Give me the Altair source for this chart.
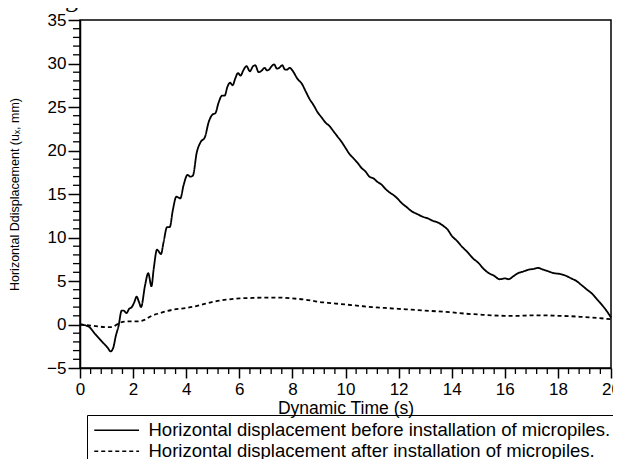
import altair as alt
import pandas as pd

# Solid series: before installation of micropiles
t_before = [0.0, 0.3, 0.6, 0.9, 1.05, 1.15, 1.25, 1.35, 1.45, 1.57, 1.65, 1.75, 1.85, 1.95,
            2.05, 2.13, 2.22, 2.3, 2.45, 2.57, 2.69, 2.78, 2.9, 3.05, 3.15, 3.28, 3.38, 3.5,
            3.63, 3.78, 3.9, 4.05, 4.15, 4.25, 4.4, 4.55, 4.7, 4.85, 4.98, 5.1, 5.22, 5.35,
            5.45, 5.55, 5.65, 5.75, 5.85, 5.95, 6.05, 6.15, 6.27, 6.4, 6.52, 6.6, 6.73, 6.85,
            6.95, 7.05, 7.12, 7.22, 7.31, 7.42, 7.5, 7.62, 7.72, 7.8, 7.9, 8.0, 8.2, 8.35,
            8.5, 8.65, 8.8, 8.95, 9.1, 9.25, 9.4, 9.55, 9.7, 9.85, 10.0, 10.15, 10.3, 10.45,
            10.6, 10.75, 10.9, 11.05, 11.2, 11.35, 11.5, 11.65, 11.8, 11.95, 12.1, 12.3, 12.5,
            12.7, 12.9, 13.1, 13.3, 13.5, 13.7, 13.85, 14.0, 14.2, 14.4, 14.6, 14.8, 15.0,
            15.2, 15.4, 15.6, 15.8, 16.0, 16.15, 16.3, 16.5, 16.7, 16.9, 17.1, 17.25, 17.45,
            17.65, 17.85, 18.1, 18.3, 18.5, 18.7, 18.9, 19.1, 19.3, 19.5, 19.7, 19.85, 20.0]
u_before = [0.0, -0.2, -1.2, -2.2, -2.7, -3.1, -2.7, -1.3, -0.2, 1.6, 1.6, 1.3, 1.8, 2.0,
            2.6, 3.2, 2.6, 2.0, 4.5, 5.9, 4.4, 6.5, 8.6, 8.1, 9.5, 11.2, 11.2, 13.2,
            14.7, 14.5, 16.0, 17.2, 17.0, 17.1, 19.8, 21.0, 21.5, 23.3, 24.1, 24.3, 25.5, 26.3,
            26.3, 27.3, 27.8, 27.5, 28.3, 28.9, 28.6, 29.2, 29.7, 29.1, 29.7, 29.8, 29.0, 29.2,
            29.5, 29.2, 29.3, 29.7, 29.9, 29.4, 29.5, 29.8, 29.3, 29.3, 29.5, 29.2, 28.2, 27.7,
            26.8, 25.9, 25.2, 24.4, 23.8, 23.2, 22.8, 22.2, 21.6, 21.0, 20.3, 19.6, 19.1, 18.6,
            18.0, 17.6, 17.0, 16.8, 16.4, 16.1, 15.6, 15.2, 14.9, 14.5, 14.0, 13.5, 13.0,
            12.7, 12.4, 12.2, 11.9, 11.7, 11.3, 10.9, 10.2, 9.6, 8.9, 8.3, 7.6, 7.1,
            6.4, 5.9, 5.6, 5.2, 5.3, 5.2, 5.5, 5.9, 6.1, 6.3, 6.4, 6.5, 6.3,
            6.1, 5.9, 5.8, 5.6, 5.3, 5.0, 4.5, 4.0, 3.5, 2.8, 2.1, 1.5, 0.8]

# Dashed series: after installation of micropiles
t_after = [0.0, 0.5, 1.0, 1.2, 1.5, 1.8, 2.2, 2.4, 2.7, 3.0, 3.5, 4.0, 4.5, 5.0, 5.5, 6.0,
           6.5, 7.0, 7.5, 8.0, 8.5, 9.0, 9.5, 10.0, 10.5, 11.0, 11.5, 12.0, 12.5, 13.0, 13.5,
           14.0, 14.5, 15.0, 15.5, 16.0, 16.5, 17.0, 17.5, 18.0, 18.5, 19.0, 19.5, 20.0]
u_after = [0.0, -0.15, -0.3, -0.3, 0.2, 0.35, 0.35, 0.5, 1.0, 1.3, 1.7, 1.9, 2.2, 2.6, 2.85, 3.0,
           3.05, 3.1, 3.1, 3.0, 2.85, 2.6, 2.45, 2.3, 2.15, 2.0, 1.9, 1.8, 1.7, 1.6, 1.5,
           1.4, 1.25, 1.15, 1.05, 1.0, 1.0, 1.05, 1.05, 1.0, 0.95, 0.85, 0.75, 0.6]

series_names = ["Horizontal displacement before installation of micropiles.",
                "Horizontal displacement after installation of micropiles."]

x_major = [0, 2, 4, 6, 8, 10, 12, 14, 16, 18, 20]
x_minor = [round(i * 0.4, 1) for i in range(51) if i % 5 != 0]
y_major = [-5, 0, 5, 10, 15, 20, 25, 30, 35]
y_minor = [v for v in range(-5, 36) if v % 5 != 0]

FONT = "Liberation Sans"
W, H = 531, 348

df = pd.concat([
    pd.DataFrame({"t": t_before, "u": u_before, "series": series_names[0]}),
    pd.DataFrame({"t": t_after, "u": u_after, "series": series_names[1]}),
])

xscale = alt.Scale(domain=[0, 20], nice=False, zero=False)
yscale = alt.Scale(domain=[-5, 35], nice=False, zero=False)

xaxis = alt.Axis(values=x_major, title="Dynamic Time (s)", tickSize=10,
                 labelPadding=3, titlePadding=2, grid=False, labelFlush=False,
                 labelFontSize=17, titleFontSize=17.5)
yaxis = alt.Axis(values=y_major, title="Horizontal Ddisplacement (uₓ, mm)",
                 tickSize=12, labelPadding=2, titlePadding=25, grid=False,
                 labelFontSize=17, titleFontSize=12.5)

lines = alt.Chart(df).mark_line(interpolate="monotone", color="black", strokeWidth=1.8).encode(
    x=alt.X("t:Q", scale=xscale, axis=xaxis),
    y=alt.Y("u:Q", scale=yscale, axis=yaxis),
    strokeDash=alt.StrokeDash(
        "series:N",
        scale=alt.Scale(domain=series_names, range=[[1, 0], [4, 3]]),
        legend=alt.Legend(title=None, orient="none", legendX=7, legendY=395,
                          strokeColor="black", padding=6, labelFontSize=18.5,
                          labelFont=FONT, labelColor="black",
                          symbolType="M-1,0H4.6", symbolSize=256,
                          symbolStrokeWidth=1.3, symbolStrokeColor="black",
                          rowPadding=2, labelOffset=37, labelLimit=700),
    ),
    detail="series:N",
)

xminor = alt.Chart(pd.DataFrame({"v": x_minor})).mark_rule(color="black", strokeWidth=1.3).encode(
    x=alt.X("v:Q", scale=xscale, axis=xaxis),
    y=alt.value(H), y2=alt.value(H + 6),
)
yminor = alt.Chart(pd.DataFrame({"v": y_minor})).mark_rule(color="black", strokeWidth=1.3).encode(
    y=alt.Y("v:Q", scale=yscale, axis=yaxis),
    x=alt.value(-7), x2=alt.value(0),
)

caption = alt.Chart(pd.DataFrame({"txt": ["loading."]})).mark_text(
    font="Liberation Serif", fontSize=26, align="left", baseline="alphabetic", color="black"
).encode(text="txt:N", x=alt.value(-80), y=alt.value(-13))

chart = alt.layer(lines, xminor, yminor, caption).properties(
    width=W, height=H,
    autosize=alt.AutoSizeParams(type="none"),
    padding={"left": 72, "top": 12, "right": 2, "bottom": 91},
).configure_view(
    stroke="black", strokeWidth=1.5
).configure_axis(
    domainColor="black", domainWidth=1.5, tickColor="black", tickWidth=1.5,
    labelFont=FONT, labelColor="black",
    titleFont=FONT, titleColor="black", titleFontWeight="normal",
)

chart.save("out.html", embed_options={"renderer": "svg", "actions": False})
